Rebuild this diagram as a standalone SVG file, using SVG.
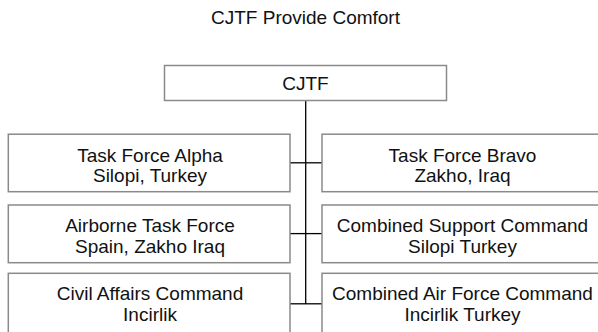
<svg xmlns="http://www.w3.org/2000/svg" width="598" height="332" viewBox="0 0 598 332">
<style>
  .box { fill: #ffffff; stroke: #8a8a8a; stroke-width: 1.5; }
  .t { font-family: "Liberation Sans", Arial, sans-serif; font-size: 19px; fill: #111111; text-anchor: middle; }
  .conn { stroke: #000000; stroke-width: 1.3; fill: none; }
</style>
<rect width="598" height="332" fill="#ffffff"/>
<text class="t" x="305.5" y="24">CJTF Provide Comfort</text>

<g id="connectors">
  <line class="conn" x1="305.7" y1="100.5" x2="305.7" y2="304"/>
  <line class="conn" x1="290" y1="162.8" x2="322" y2="162.8"/>
  <line class="conn" x1="290" y1="233.6" x2="322" y2="233.6"/>
  <line class="conn" x1="290" y1="303.8" x2="322" y2="303.8"/>
</g>

<g id="cjtf">
  <rect class="box" x="164.5" y="65.5" width="282" height="35"/>
  <text class="t" x="305.5" y="90">CJTF</text>
</g>

<g id="tf-alpha">
  <rect class="box" x="8.3" y="134.2" width="281.7" height="57.5"/>
  <text class="t" x="150" y="161.5">Task Force Alpha</text>
  <text class="t" x="150" y="182.2">Silopi, Turkey</text>
</g>
<g id="tf-bravo">
  <rect class="box" x="322" y="134.2" width="282" height="57.5"/>
  <text class="t" x="462.5" y="161.5">Task Force Bravo</text>
  <text class="t" x="462.5" y="182.2">Zakho, Iraq</text>
</g>

<g id="airborne-tf">
  <rect class="box" x="8.3" y="205" width="281.7" height="57.7"/>
  <text class="t" x="150" y="232.3">Airborne Task Force</text>
  <text class="t" x="150" y="253">Spain, Zakho Iraq</text>
</g>
<g id="combined-support">
  <rect class="box" x="322" y="205" width="282" height="57.7"/>
  <text class="t" x="462.5" y="232.3">Combined Support Command</text>
  <text class="t" x="462.5" y="253">Silopi Turkey</text>
</g>

<g id="civil-affairs">
  <rect class="box" x="8.3" y="273.3" width="281.7" height="61"/>
  <text class="t" x="150" y="299.5">Civil Affairs Command</text>
  <text class="t" x="150" y="320.5">Incirlik</text>
</g>
<g id="combined-air">
  <rect class="box" x="322" y="273.3" width="282" height="61"/>
  <text class="t" x="462.5" y="299.5">Combined Air Force Command</text>
  <text class="t" x="462.5" y="320.5">Incirlik Turkey</text>
</g>
</svg>
